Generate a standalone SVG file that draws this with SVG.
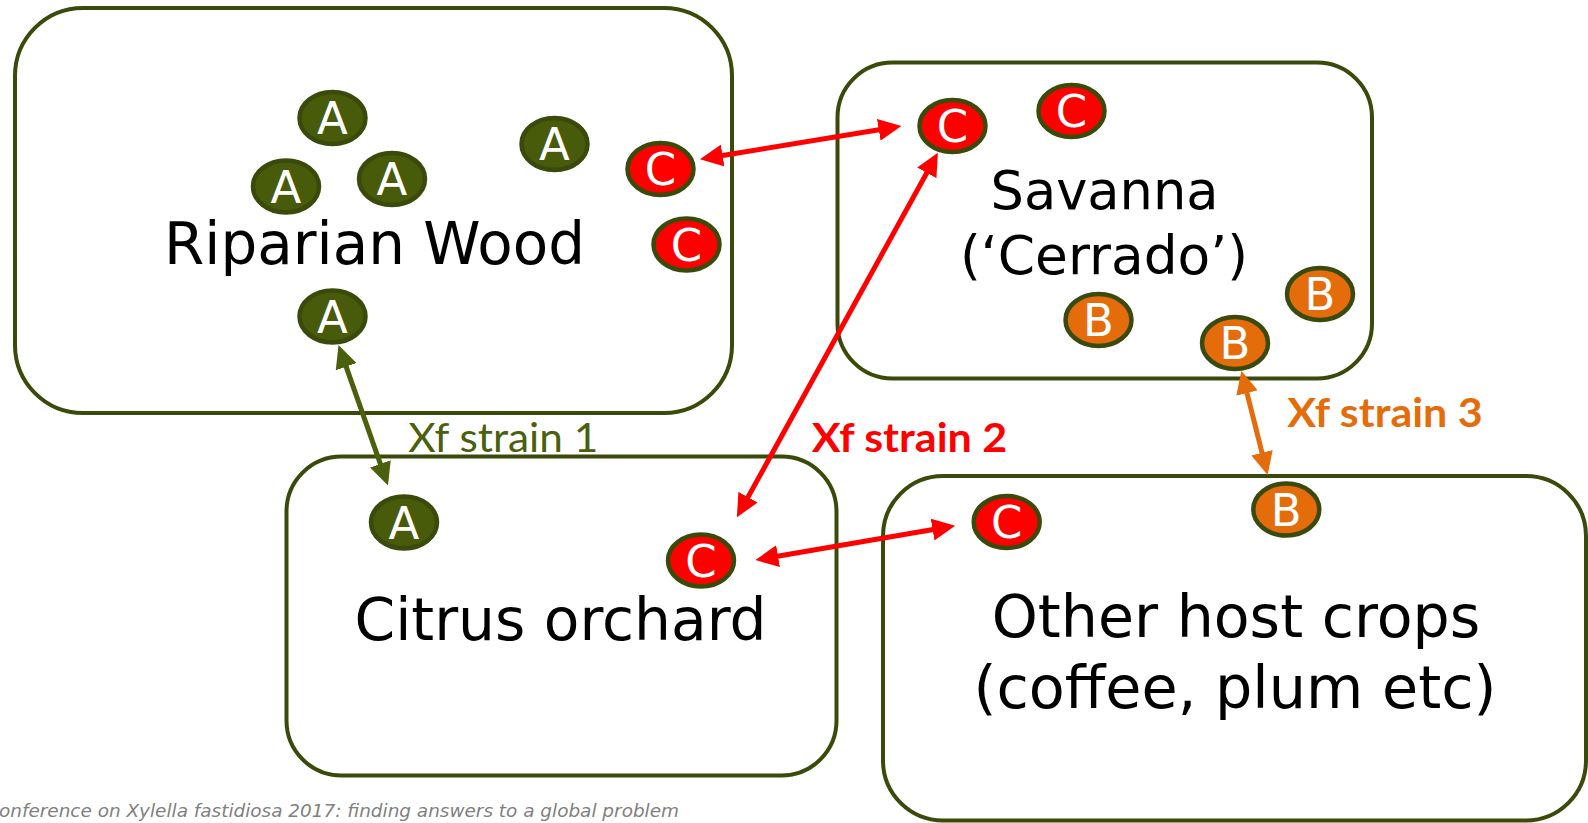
<svg xmlns="http://www.w3.org/2000/svg" width="1588" height="823" viewBox="0 0 1588 823">
<style>
.box{fill:#ffffff;stroke:#3a4a0b;stroke-width:4}
.lbl{font-family:"DejaVu Sans","Liberation Sans",sans-serif;fill:#000000;text-anchor:middle}
.dot{stroke:#3a4a0b;stroke-width:4.5}
.a{fill:#475b0a}
.b{fill:#e46c0a}
.c{fill:#ff0000}
.dt{font-family:"DejaVu Sans","Liberation Sans",sans-serif;font-size:45px;fill:#ffffff;text-anchor:middle}
.strain{font-family:Lato,"Open Sans","Liberation Sans",sans-serif;font-size:41px}
.cg{stroke:#4a600c;stroke-width:5;fill:none;marker-start:url(#hg);marker-end:url(#hg)}
.cr{stroke:#ff0000;stroke-width:5;fill:none;marker-start:url(#hr);marker-end:url(#hr)}
.co{stroke:#e46c0a;stroke-width:5;fill:none;marker-start:url(#ho);marker-end:url(#ho)}
</style>
<defs>
<marker id="hg" markerUnits="userSpaceOnUse" viewBox="0 0 23 22" refX="11" refY="11" markerWidth="23" markerHeight="22" orient="auto-start-reverse"><path d="M0,0 L23,11 L0,22 z" fill="#4a600c"/></marker>
<marker id="hr" markerUnits="userSpaceOnUse" viewBox="0 0 23 22" refX="11" refY="11" markerWidth="23" markerHeight="22" orient="auto-start-reverse"><path d="M0,0 L23,11 L0,22 z" fill="#ff0000"/></marker>
<marker id="ho" markerUnits="userSpaceOnUse" viewBox="0 0 23 22" refX="11" refY="11" markerWidth="23" markerHeight="22" orient="auto-start-reverse"><path d="M0,0 L23,11 L0,22 z" fill="#e46c0a"/></marker>
</defs>
<rect width="1588" height="823" fill="#ffffff"/>

<g id="riparian">
<rect class="box" x="15" y="8" width="717" height="405" rx="68" ry="68"/>
<text class="lbl" x="374.5" y="264" font-size="58" textLength="421" lengthAdjust="spacingAndGlyphs">Riparian Wood</text>
<ellipse class="dot a" cx="332.5" cy="118" rx="33" ry="26"/><text class="dt" x="332.5" y="134">A</text>
<ellipse class="dot a" cx="286" cy="186.5" rx="33" ry="26"/><text class="dt" x="286" y="202.5">A</text>
<ellipse class="dot a" cx="392" cy="179" rx="33" ry="26"/><text class="dt" x="392" y="195">A</text>
<ellipse class="dot a" cx="554.5" cy="144" rx="33" ry="26"/><text class="dt" x="554.5" y="160">A</text>
<ellipse class="dot c" cx="660.5" cy="169" rx="33" ry="26"/><text class="dt" x="660.5" y="185">C</text>
<ellipse class="dot c" cx="686.5" cy="244.5" rx="33" ry="26"/><text class="dt" x="686.5" y="260.5">C</text>
<ellipse class="dot a" cx="332.5" cy="316.5" rx="33" ry="26"/><text class="dt" x="332.5" y="332.5">A</text>
</g>

<g id="savanna">
<rect class="box" x="837.5" y="62.5" width="534.5" height="316" rx="55" ry="55"/>
<text class="lbl" x="1104.5" y="209" font-size="53.5" textLength="228" lengthAdjust="spacingAndGlyphs">Savanna</text>
<text class="lbl" x="1104" y="273.5" font-size="53.5" textLength="288" lengthAdjust="spacingAndGlyphs">(‘Cerrado’)</text>
<ellipse class="dot c" cx="952.5" cy="126" rx="33" ry="26"/><text class="dt" x="952.5" y="142">C</text>
<ellipse class="dot c" cx="1071.5" cy="111" rx="33" ry="26"/><text class="dt" x="1071.5" y="127">C</text>
<ellipse class="dot b" cx="1098.5" cy="320" rx="33" ry="26"/><text class="dt" x="1098.5" y="336">B</text>
<ellipse class="dot b" cx="1235" cy="343" rx="33" ry="26"/><text class="dt" x="1235" y="359">B</text>
<ellipse class="dot b" cx="1320" cy="294" rx="33" ry="26"/><text class="dt" x="1320" y="310">B</text>
</g>

<g id="citrus">
<rect class="box" x="286.5" y="456.5" width="550" height="319" rx="55" ry="55"/>
<text class="lbl" x="560.5" y="639.5" font-size="58" textLength="412" lengthAdjust="spacingAndGlyphs">Citrus orchard</text>
<ellipse class="dot a" cx="404" cy="522.5" rx="33" ry="26"/><text class="dt" x="404" y="538.5">A</text>
<ellipse class="dot c" cx="701" cy="560.5" rx="33" ry="26"/><text class="dt" x="701" y="576.5">C</text>
</g>

<g id="other">
<rect class="box" x="883" y="476" width="703" height="344.5" rx="60" ry="60"/>
<text class="lbl" x="1236" y="637" font-size="58.5" textLength="488.5" lengthAdjust="spacingAndGlyphs">Other host crops</text>
<text class="lbl" x="1235" y="707.5" font-size="58.5" textLength="523" lengthAdjust="spacingAndGlyphs">(coffee, plum etc)</text>
<ellipse class="dot c" cx="1006.7" cy="522" rx="33" ry="26"/><text class="dt" x="1006.7" y="538">C</text>
<ellipse class="dot b" cx="1286.3" cy="509.5" rx="33" ry="26"/><text class="dt" x="1286.3" y="525.5">B</text>
</g>

<g id="connectors">
<line class="cg" x1="342.5" y1="356.3" x2="384" y2="474.2"/>
<line class="cr" x1="711.8" y1="157.3" x2="889.6" y2="128"/>
<line class="cr" x1="932.1" y1="163.2" x2="742.7" y2="506.8"/>
<line class="cr" x1="767.2" y1="558" x2="943.4" y2="527.7"/>
<line class="co" x1="1244.3" y1="382.3" x2="1264.7" y2="463.4"/>
</g>

<g id="labels">
<text class="strain" x="408.3" y="451.7" fill="#4a600c" textLength="190" lengthAdjust="spacingAndGlyphs">Xf strain 1</text>
<text class="strain" x="811.7" y="451.7" fill="#ff0000" font-weight="bold" textLength="195.6" lengthAdjust="spacingAndGlyphs">Xf strain 2</text>
<text class="strain" x="1287.3" y="427" fill="#e46c0a" font-weight="bold" textLength="195.4" lengthAdjust="spacingAndGlyphs">Xf strain 3</text>
</g>

<text x="-1" y="817" font-family="'DejaVu Sans','Liberation Sans',sans-serif" font-size="17" font-style="italic" fill="#808080" textLength="680" lengthAdjust="spacingAndGlyphs">onference on Xylella fastidiosa 2017: finding answers to a global problem</text>
</svg>
